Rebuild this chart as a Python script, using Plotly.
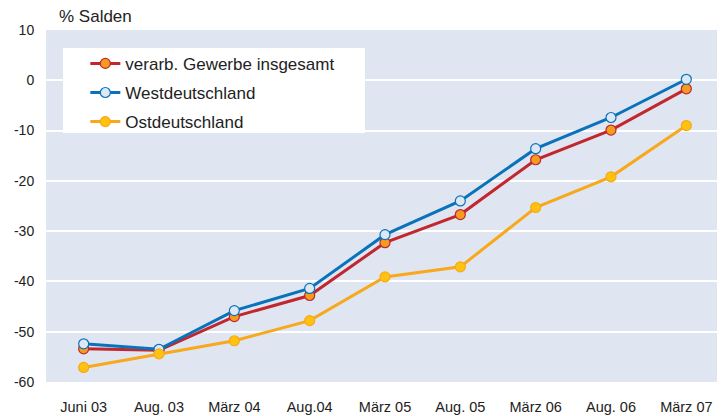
import plotly.graph_objects as go

categories = ["Juni 03", "Aug. 03", "März 04", "Aug.04", "März 05", "Aug. 05", "März 06", "Aug. 06", "März 07"]
gesamt = [-53.4, -53.7, -47.0, -42.8, -32.3, -26.7, -15.8, -9.9, -1.7]
west = [-52.4, -53.5, -45.8, -41.4, -30.7, -24.0, -13.6, -7.4, 0.2]
ost = [-57.1, -54.4, -51.8, -47.8, -39.1, -37.1, -25.3, -19.2, -9.0]
yticks = [10, 0, -10, -20, -30, -40, -50, -60]

x = list(range(len(categories)))
font = "Liberation Sans, Arial, sans-serif"
txt = "#222222"

fig = go.Figure()
fig.add_trace(go.Scatter(x=x, y=gesamt, name="verarb. Gewerbe insgesamt", mode="lines+markers",
                         line=dict(color="#c1272d", width=3), legendgroup="a",
                         marker=dict(size=10, color="#f39c1f", line=dict(color="#c1272d", width=1.2))))
fig.add_trace(go.Scatter(x=x, y=west, name="Westdeutschland", mode="lines+markers",
                         line=dict(color="#0a72ba", width=3), legendgroup="b",
                         marker=dict(size=10, color="#dde8f5", line=dict(color="#0a72ba", width=1.2))))
fig.add_trace(go.Scatter(x=x, y=ost, name="Ostdeutschland", mode="lines+markers",
                         line=dict(color="#f7a81b", width=3), legendgroup="c",
                         marker=dict(size=10, color="#ffc20e", line=dict(color="#f7a81b", width=1.2))))

# page body has an 8px margin, so the figure is 8px smaller and offsets are reduced
fig.update_layout(
    width=717, height=408,
    margin=dict(l=38, r=1, t=22, b=34, autoexpand=False),
    paper_bgcolor="white", plot_bgcolor="#dfe6f2",
    font=dict(family=font, size=14, color=txt),
    showlegend=True,
    legend=dict(x=0.058, y=0.955, xanchor="left", yanchor="top", bgcolor="rgba(0,0,0,0)",
                font=dict(size=17, color=txt), tracegroupgap=4, traceorder="grouped",
                borderwidth=0, itemwidth=30),
    xaxis=dict(tickmode="array", tickvals=x, ticktext=categories, range=[-0.5, 8.5],
               showgrid=False, zeroline=False, ticks="outside", ticklen=12, tickcolor="rgba(0,0,0,0)",
               showline=False, tickfont=dict(size=14.5)),
    yaxis=dict(tickmode="array", tickvals=yticks, ticktext=[str(v) for v in yticks], range=[-60, 10],
               showgrid=True, gridcolor="white", gridwidth=2, zeroline=False,
               ticks="outside", ticklen=8, tickcolor="rgba(0,0,0,0)", showline=False),
    shapes=[dict(type="rect", xref="paper", yref="paper", x0=0.0251, x1=0.4705, y0=0.7074, y1=0.9489,
                 fillcolor="white", line=dict(width=0), layer="below")],
    annotations=[dict(text="% Salden", x=0.0162, y=1.037, xref="paper", yref="paper", showarrow=False,
                      font=dict(size=17, color=txt), xanchor="left", yanchor="middle")],
)
fig.write_html("out.html")
